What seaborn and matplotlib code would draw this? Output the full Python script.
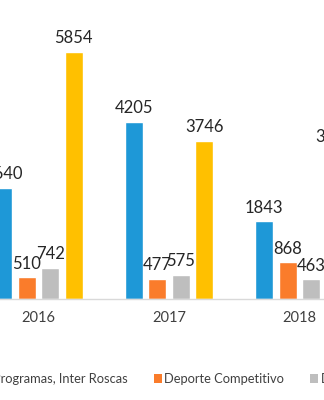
import numpy as np
import pandas as pd
import matplotlib
matplotlib.use("Agg")
import matplotlib.pyplot as plt
import seaborn as sns
from matplotlib.patches import Patch

# Participants per year and programme line
years = ["2016", "2017", "2018"]
series = ["Programas, Inter Roscas", "Deporte Competitivo", "Deporte Formativo", "Eventos Masivos"]
programas = [2640, 4205, 1843]
competitivo = [510, 477, 868]
formativo = [742, 575, 463]
masivos = [5854, 3746, 3530]
colors = ["#1E98D7", "#FA7C2B", "#BEBEBE", "#FFC000"]

sns.set_theme(style="white")
plt.rcParams["font.family"] = ["Lato", "DejaVu Sans"]

df = pd.DataFrame({
    "Año": years * 4,
    "Serie": np.repeat(series, len(years)),
    "Valor": programas + competitivo + formativo + masivos,
})

fig = plt.figure(figsize=(3.24, 4.0), dpi=100)
ax = fig.add_axes([0, 0.2525, 1, 0.7475])
sns.barplot(data=df, x="Año", y="Valor", hue="Serie", order=years,
            hue_order=series, palette=colors, saturation=1, width=0.72,
            gap=0.23, errorbar=None, legend=False, ax=ax)

for cont in ax.containers:
    ax.bar_label(cont, fmt="%g", padding=4, fontsize=12, color="#262626",
                 annotation_clip=False)

ax.set_xlim(-0.295, 2.188)
ax.set_ylim(0, 7087)
ax.set_yticks([])
ax.set_xlabel("")
ax.set_ylabel("")
for side in ["top", "left", "right"]:
    ax.spines[side].set_visible(False)
ax.spines["bottom"].set_color("#D9D9D9")
ax.spines["bottom"].set_linewidth(1.0)
ax.tick_params(axis="x", length=0, pad=9, labelsize=10.5, labelcolor="#404040")

handles = [Patch(facecolor=c, edgecolor="none") for c in colors]
fig.legend(handles, series, loc="center left", bbox_to_anchor=(-0.0895, 0.0525),
           ncol=4, frameon=False, fontsize=9.3, handlelength=0.6,
           handleheight=0.6, handletextpad=0.22, columnspacing=2.0,
           labelcolor="#404040")

fig.savefig("out.png", dpi=100)
